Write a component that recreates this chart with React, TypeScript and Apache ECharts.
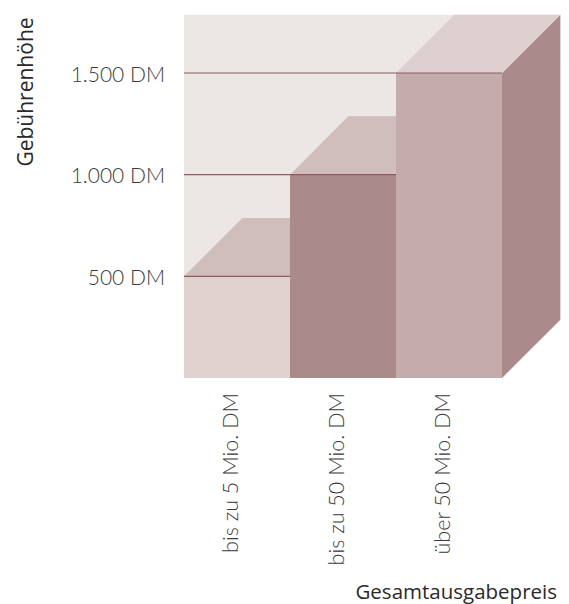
import React, { useEffect, useRef } from "react";
import * as echarts from "echarts";

// Fee levels per total publication price band
const categories = ["bis zu 5 Mio. DM", "bis zu 50 Mio. DM", "über 50 Mio. DM"];
const fees = [500, 1000, 1500];
const yTicks = [500, 1000, 1500];
const yTickLabels = ["500 DM", "1.000 DM", "1.500 DM"];

const yTitle = "Gebührenhöhe";
const xTitle = "Gesamtausgabepreis";

// Face colours per bar: front, top, side
const frontColors = ["#DED1CE", "#AB8A8B", "#C4ACAC"];
const topColors = ["#D0BEBC", "#D0BEBC", "#DED0CE"];
const sideColors = ["#AB8A8B", "#AB8A8B", "#AB8A8B"];
const panelColor = "#ECE6E4";
const lineColor = "#8C5C60";

const FONT = "Lato, 'Open Sans', sans-serif";
const TITLE_FONT = "'Open Sans', Lato, sans-serif";
const DEPTH_RATIO = 0.55; // extrusion depth as a share of the category width

export default function App() {
  const ref = useRef<HTMLDivElement>(null);

  useEffect(() => {
    if (!ref.current) return;
    const chart = echarts.init(ref.current, null, { renderer: "svg" });

    const option: any = {
      animation: false,
      backgroundColor: "#ffffff",
      grid: { left: 184, top: 73, width: 318, bottom: 226, containLabel: false },
      xAxis: {
        type: "category",
        data: categories,
        axisLine: { show: false },
        axisTick: { show: false },
        splitLine: { show: false },
        axisLabel: {
          rotate: 90,
          margin: 15,
          fontFamily: FONT,
          fontWeight: 300,
          fontSize: 21.5,
          color: "#3a3a3a",
          verticalAlign: "bottom",
          lineHeight: 14,
        },
      },
      yAxis: {
        type: "value",
        min: 0,
        max: 1500,
        interval: 500,
        axisLine: { show: false },
        axisTick: { show: false },
        splitLine: { show: false },
        axisLabel: {
          margin: 19,
          fontFamily: FONT,
          fontWeight: 300,
          fontSize: 21,
          color: "#3a3a3a",
          formatter: (v: number) => {
            const i = yTicks.indexOf(v);
            return i >= 0 ? yTickLabels[i] : "";
          },
        },
      },
      series: [
        {
          // back panel of the box with its value lines
          type: "custom",
          z: 1,
          silent: true,
          data: [[0, 0]],
          encode: { x: 0, y: 1 },
          renderItem: (params: any, api: any) => {
            const cs = params.coordSys;
            const d = api.size([1, 0])[0] * DEPTH_RATIO;
            const x0 = cs.x;
            const x1 = cs.x + cs.width;
            const yTop = cs.y;
            const yBase = cs.y + cs.height;
            const lines = yTicks.map((t) => {
              const y = api.coord([0, t])[1];
              return {
                type: "line",
                shape: { x1: x0, y1: y, x2: x1, y2: y },
                style: { stroke: lineColor, lineWidth: 1.2 },
              };
            });
            return {
              type: "group",
              children: [
                {
                  type: "polygon",
                  shape: {
                    points: [
                      [x0, yBase],
                      [x0, yTop - d],
                      [x1 + d, yTop - d],
                      [x1 + d, yBase - d],
                      [x1, yBase],
                    ],
                  },
                  style: { fill: panelColor },
                },
                ...lines,
              ],
            };
          },
        },
        {
          // extruded bars
          type: "custom",
          z: 2,
          data: fees.map((v, i) => [i, v]),
          encode: { x: 0, y: 1 },
          renderItem: (params: any, api: any) => {
            const i = params.dataIndex;
            const w = api.size([1, 0])[0];
            const d = w * DEPTH_RATIO;
            const topPt = api.coord([api.value(0), api.value(1)]);
            const basePt = api.coord([api.value(0), 0]);
            const x0 = topPt[0] - w / 2;
            const x1 = x0 + w;
            const yT = topPt[1];
            const yB = basePt[1];
            return {
              type: "group",
              children: [
                {
                  type: "polygon",
                  shape: { points: [[x1, yT], [x1 + d, yT - d], [x1 + d, yB - d], [x1, yB]] },
                  style: { fill: sideColors[i] },
                },
                {
                  type: "polygon",
                  shape: { points: [[x0, yT], [x0 + d, yT - d], [x1 + d, yT - d], [x1, yT]] },
                  style: { fill: topColors[i] },
                },
                {
                  type: "rect",
                  shape: { x: x0, y: yT, width: w, height: yB - yT },
                  style: { fill: frontColors[i] },
                },
                {
                  type: "line",
                  shape: { x1: x0, y1: yT, x2: x1, y2: yT },
                  style: { stroke: lineColor, lineWidth: 1.2 },
                },
              ],
            };
          },
        },
      ],
      graphic: [
        {
          type: "text",
          x: 25,
          y: 92,
          rotation: Math.PI / 2,
          style: {
            text: yTitle,
            fontFamily: TITLE_FONT,
            fontSize: 21,
            fill: "#2a2a2a",
            align: "center",
            verticalAlign: "middle",
          },
        },
        {
          type: "text",
          x: 557,
          y: 601,
          style: {
            text: xTitle,
            fontFamily: TITLE_FONT,
            fontSize: 20.5,
            fill: "#2a2a2a",
            align: "right",
            verticalAlign: "bottom",
          },
        },
      ],
    };

    chart.setOption(option);
    return () => chart.dispose();
  }, []);

  return (
    <div
      ref={ref}
      style={{ position: "fixed", left: 0, top: 0, width: 569, height: 604 }}
    />
  );
}
